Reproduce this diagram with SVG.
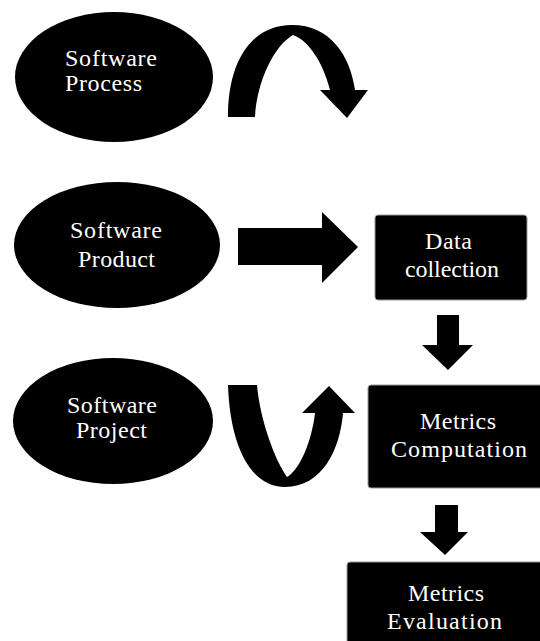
<svg xmlns="http://www.w3.org/2000/svg" width="540" height="641" viewBox="0 0 540 641">
<style>
.shape{fill:#000;}
.box{fill:#000;stroke:#999;stroke-width:1;}
.lbl{fill:#fff;font-family:"Liberation Serif","Times New Roman",serif;font-size:24px;}
.arrow{fill:#000;}
</style>
<rect width="540" height="641" fill="#fff"/>
<g id="software-process">
<ellipse class="shape" cx="114" cy="77" rx="99" ry="65"/>
<text class="lbl" x="65" y="66" textLength="92" lengthAdjust="spacing">Software</text>
<text class="lbl" x="65" y="91" textLength="77" lengthAdjust="spacing">Process</text>
</g>
<g id="software-product">
<ellipse class="shape" cx="117" cy="245" rx="103" ry="63"/>
<text class="lbl" x="70" y="238" textLength="92" lengthAdjust="spacing">Software</text>
<text class="lbl" x="78" y="267" textLength="77" lengthAdjust="spacing">Product</text>
</g>
<g id="software-project">
<ellipse class="shape" cx="113" cy="421" rx="100" ry="63"/>
<text class="lbl" x="67" y="413" textLength="90" lengthAdjust="spacing">Software</text>
<text class="lbl" x="76" y="438" textLength="71" lengthAdjust="spacing">Project</text>
</g>
<g id="data-collection">
<rect class="box" x="375" y="215" width="152" height="85" rx="3"/>
<text class="lbl" x="425" y="249" textLength="47" lengthAdjust="spacing">Data</text>
<text class="lbl" x="405" y="277" textLength="94" lengthAdjust="spacing">collection</text>
</g>
<g id="metrics-computation">
<rect class="box" x="368" y="385" width="180" height="103" rx="3"/>
<text class="lbl" x="420" y="429" textLength="76" lengthAdjust="spacing">Metrics</text>
<text class="lbl" x="391" y="457" textLength="136" lengthAdjust="spacing">Computation</text>
</g>
<g id="metrics-evaluation">
<rect class="box" x="347" y="562" width="205" height="90" rx="3"/>
<text class="lbl" x="408" y="601" textLength="76" lengthAdjust="spacing">Metrics</text>
<text class="lbl" x="387" y="629" textLength="115" lengthAdjust="spacing">Evaluation</text>
</g>
<g id="connectors">
<path class="arrow" d="M228,117 C228,60 252,25 292,25 C330,25 350,55 355,90 L368,90 L347,118 L320,90 L330,90 C323,62 308,40 293,35 C275,45 257,80 255,117 Z"/>
<path class="arrow" d="M238,228 L322,228 L322,212 L358,247 L322,283 L322,265 L238,265 Z"/>
<path class="arrow" d="M228,385 C230,445 250,487 285,487 C322,487 340,450 343,413 L355,413 L329,386 L302,413 L315,413 C312,440 300,470 287,477 C275,460 260,420 257,385 Z"/>
<path class="arrow" d="M437,315 L459,315 L459,345 L473,345 L448,370 L422,345 L437,345 Z"/>
<path class="arrow" d="M435,505 L458,505 L458,532 L468,532 L445,555 L420,532 L435,532 Z"/>
</g>
</svg>
